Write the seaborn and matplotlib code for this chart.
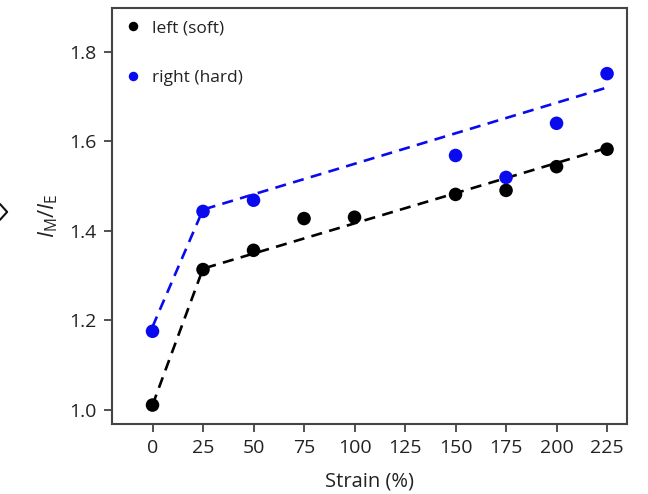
import matplotlib
matplotlib.use("Agg")
import matplotlib.pyplot as plt
from matplotlib.lines import Line2D
import seaborn as sns
import pandas as pd

# data
strain_soft = [0, 25, 50, 75, 100, 150, 175, 200, 225]
ratio_soft = [1.01, 1.313, 1.356, 1.427, 1.430, 1.481, 1.490, 1.543, 1.582]
strain_hard = [0, 25, 50, 150, 175, 200, 225]
ratio_hard = [1.175, 1.443, 1.468, 1.568, 1.519, 1.640, 1.751]
fit_x = [0, 25, 225]
fit_soft = [1.01, 1.315, 1.585]
fit_hard = [1.185, 1.447, 1.72]
xticks = [0, 25, 50, 75, 100, 125, 150, 175, 200, 225]
yticks = [1.0, 1.2, 1.4, 1.6, 1.8]
labels = ["left (soft)", "right (hard)"]

sns.set_style("ticks")
plt.rcParams['font.family'] = ['Open Sans', 'DejaVu Sans']
plt.rcParams['mathtext.fontset'] = 'custom'
plt.rcParams['mathtext.rm'] = 'Open Sans'
plt.rcParams['mathtext.it'] = 'Open Sans:italic'

pts = pd.concat([
    pd.DataFrame({"strain": strain_soft, "ratio": ratio_soft, "series": labels[0]}),
    pd.DataFrame({"strain": strain_hard, "ratio": ratio_hard, "series": labels[1]}),
])
fits = pd.concat([
    pd.DataFrame({"strain": fit_x, "ratio": fit_soft, "series": labels[0]}),
    pd.DataFrame({"strain": fit_x, "ratio": fit_hard, "series": labels[1]}),
])
palette = {labels[0]: "#000000", labels[1]: "#0a0aee"}

fig = plt.figure(figsize=(6.48, 4.94), dpi=100)
ax = fig.add_axes([0.173, 0.142, 0.795, 0.842])

sns.lineplot(data=fits, x="strain", y="ratio", hue="series", palette=palette,
             ax=ax, legend=False, linewidth=1.9, zorder=2)
for ln in ax.lines:
    ln.set_linestyle((0, (4.2, 2.8)))
sns.scatterplot(data=pts, x="strain", y="ratio", hue="series", palette=palette,
                ax=ax, s=95, edgecolor='none', zorder=3)

ax.set_xlim(-20, 235)
ax.set_ylim(0.968, 1.898)
ax.set_xticks(xticks)
ax.set_yticks(yticks)
ax.set_yticklabels([f"{v:.1f}" for v in yticks])
ax.tick_params(axis='both', labelsize=14, length=6, width=1.2, color='#333333',
               labelcolor='#222222', pad=5)
for sp in ax.spines.values():
    sp.set_visible(True)
    sp.set_linewidth(1.5)
    sp.set_color('#444444')

ax.set_xlabel("Strain (%)", fontsize=14.5, color='#222222', labelpad=10)
ax.set_ylabel(r"$\mathit{I}_{\mathrm{M}}/\mathit{I}_{\mathrm{E}}$", fontsize=16,
              color='#222222', labelpad=7)

leg = ax.legend(loc='upper left', frameon=False, fontsize=12.5, markerscale=0.7,
                labelspacing=1.95, handletextpad=0.6, borderaxespad=0.3,
                handlelength=1.0, bbox_to_anchor=(0.0, 1.0))
for t in leg.get_texts():
    t.set_color('#222222')

# small chevron mark at the left edge of the picture
fig.add_artist(Line2D([0.0, 0.011, 0.0], [0.587, 0.571, 0.555],
                      transform=fig.transFigure, color='#111111', linewidth=1.5))

fig.savefig("out.png", dpi=100)
